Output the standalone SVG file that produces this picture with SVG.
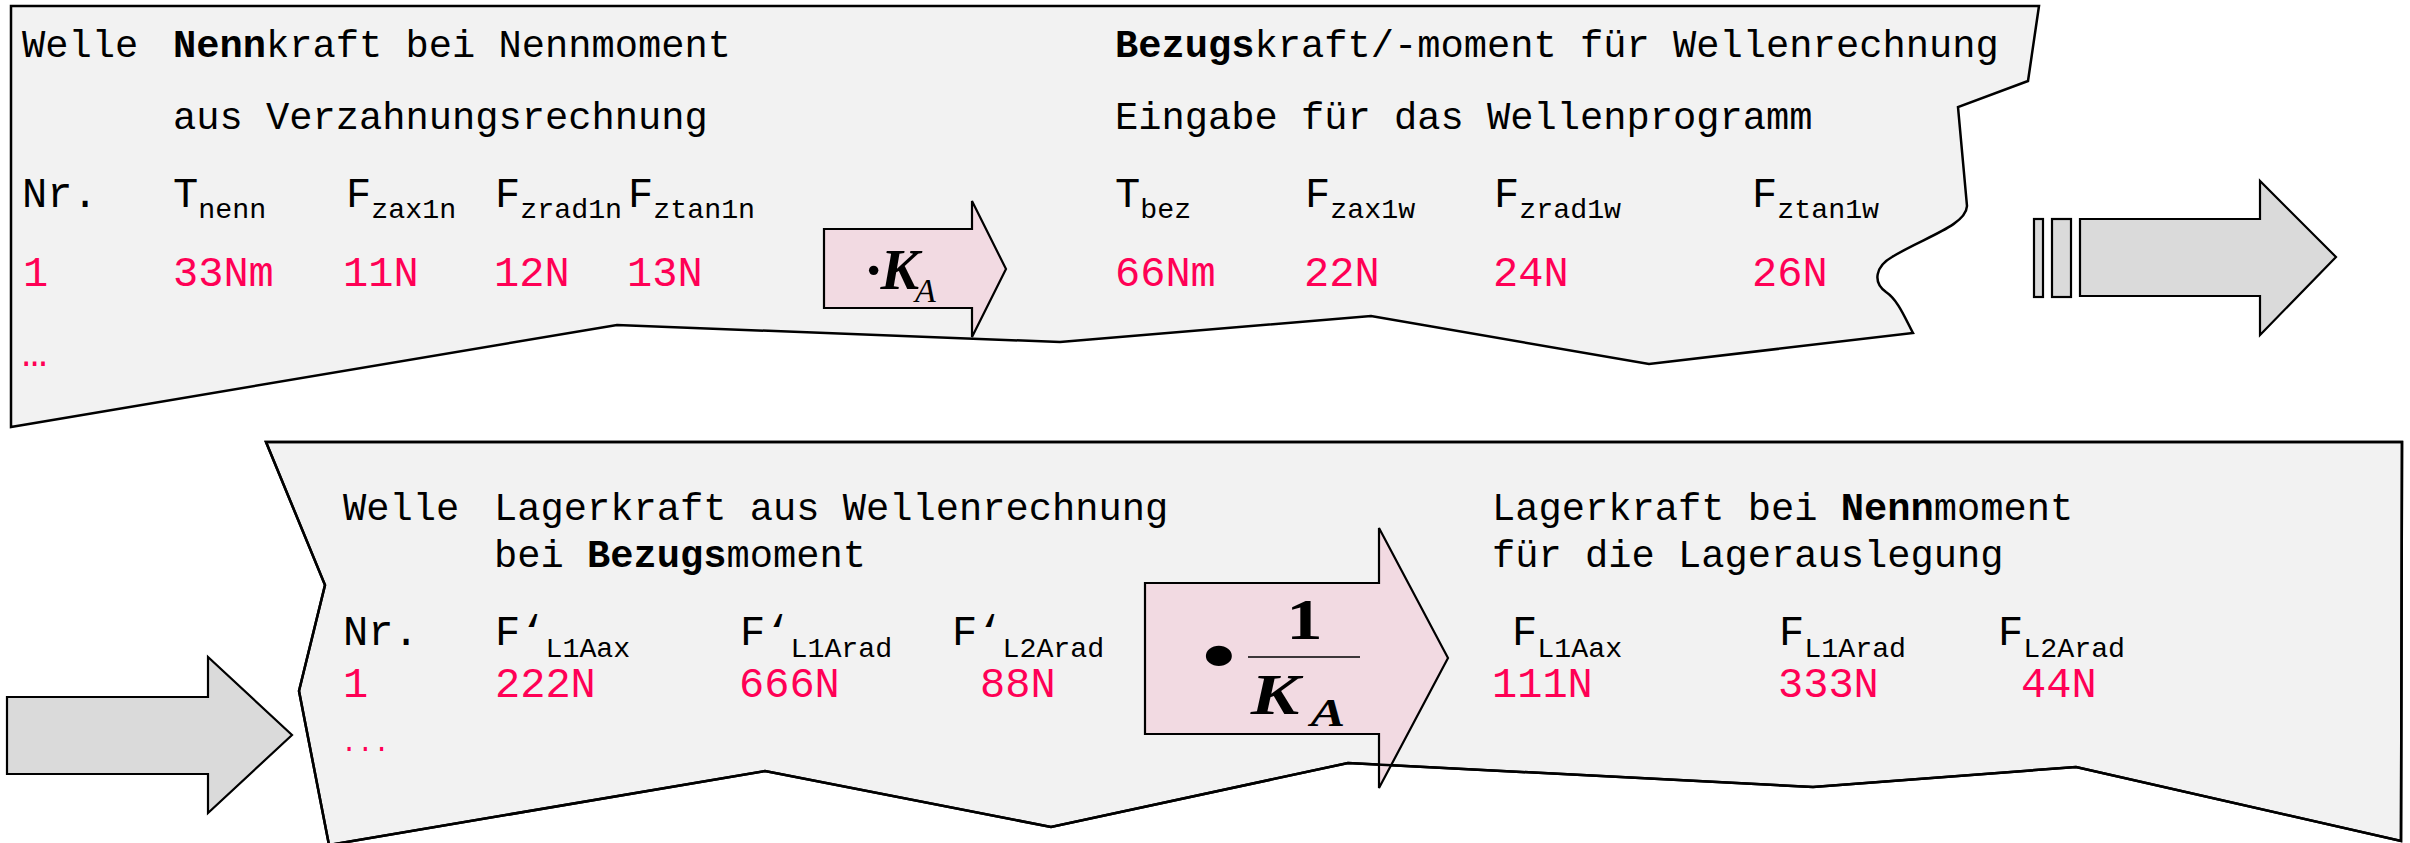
<svg xmlns="http://www.w3.org/2000/svg" xmlns:xlink="http://www.w3.org/1999/xlink" width="2410" height="843" viewBox="0 0 2410 843">
<defs>
<style>
.panel{fill:#F2F2F2;stroke:#000;stroke-width:2.5;stroke-linejoin:miter}
.outline{fill:none;stroke:#000;stroke-width:2.5}
.pink{fill:#F2DAE2;stroke:#000;stroke-width:2.2}
.gray{fill:#DADADA;stroke:#000;stroke-width:2.2}
text{font-family:"Liberation Mono","DejaVu Sans Mono",monospace;fill:#000}
.h{font-size:38.75px}
.l{font-size:42px}
.v{font-size:42px;fill:#FF0055}
.s{font-size:28.3px}
.b{font-weight:bold}
.m{font-family:"Liberation Serif","Times New Roman",serif}
</style>
<path id="p2" d="M266,442 L2402,442 L2401,841 L2076,767 L1813,787 L1348,763 L1051,827 L765,771 L329,845 L299,691 L325,585 Z"/>
</defs>

<g id="panel-top">
<path class="panel" d="M11,6 L11,427 L617,325 L1060,342 L1371,316 L1649,364 L1913,333 C1905,318 1898,300 1886,292 C1872,282 1876,266 1892,257 C1922,238 1966,226 1967,206 L1958,107 L2028,81 L2039,6 Z"/>
<text class="h" x="22" y="57">Welle</text>
<text class="h" x="173" y="57"><tspan class="b">Nenn</tspan>kraft bei Nennmoment</text>
<text class="h" x="173" y="129">aus Verzahnungsrechnung</text>
<text class="l" x="22" y="207">Nr.</text>
<text class="l" x="173" y="207">T<tspan class="s" dy="11">nenn</tspan></text>
<text class="l" x="346" y="207">F<tspan class="s" dy="11">zax1n</tspan></text>
<text class="l" x="495" y="207">F<tspan class="s" dy="11">zrad1n</tspan></text>
<text class="l" x="628" y="207">F<tspan class="s" dy="11">ztan1n</tspan></text>
<text class="v" x="23" y="286">1</text>
<text class="v" x="173" y="286">33Nm</text>
<text class="v" x="343" y="286">11N</text>
<text class="v" x="494" y="286">12N</text>
<text class="v" x="627" y="286">13N</text>
<text class="v" x="22" y="366">…</text>
<text class="h" x="1115" y="57"><tspan class="b">Bezugs</tspan>kraft/-moment für Wellenrechnung</text>
<text class="h" x="1115" y="129">Eingabe für das Wellenprogramm</text>
<text class="l" x="1115" y="207">T<tspan class="s" dy="11">bez</tspan></text>
<text class="l" x="1305" y="207">F<tspan class="s" dy="11">zax1w</tspan></text>
<text class="l" x="1494" y="207">F<tspan class="s" dy="11">zrad1w</tspan></text>
<text class="l" x="1752" y="207">F<tspan class="s" dy="11">ztan1w</tspan></text>
<text class="v" x="1115" y="286">66Nm</text>
<text class="v" x="1304" y="286">22N</text>
<text class="v" x="1493" y="286">24N</text>
<text class="v" x="1752" y="286">26N</text>
</g>

<g id="panel-bottom">
<use xlink:href="#p2" class="panel"/>
<text class="h" x="343" y="520">Welle</text>
<text class="h" x="494" y="520">Lagerkraft aus Wellenrechnung</text>
<text class="h" x="494" y="567">bei <tspan class="b">Bezugs</tspan>moment</text>
<text class="l" x="343" y="645">Nr.</text>
<text class="l" x="495" y="645">F‘<tspan class="s" dy="12">L1Aax</tspan></text>
<text class="l" x="740" y="645">F‘<tspan class="s" dy="12">L1Arad</tspan></text>
<text class="l" x="952" y="645">F‘<tspan class="s" dy="12">L2Arad</tspan></text>
<text class="v" x="343" y="697">1</text>
<text class="v" x="495" y="697">222N</text>
<text class="v" x="739" y="697">666N</text>
<text class="v" x="980" y="697">88N</text>
<text class="v" x="341" y="751" style="font-size:27px">...</text>
<text class="h" x="1492" y="520">Lagerkraft bei <tspan class="b">Nenn</tspan>moment</text>
<text class="h" x="1492" y="567">für die Lagerauslegung</text>
<text class="l" x="1512" y="645">F<tspan class="s" dy="12">L1Aax</tspan></text>
<text class="l" x="1779" y="645">F<tspan class="s" dy="12">L1Arad</tspan></text>
<text class="l" x="1998" y="645">F<tspan class="s" dy="12">L2Arad</tspan></text>
<text class="v" x="1492" y="697">111N</text>
<text class="v" x="1778" y="697">333N</text>
<text class="v" x="2021" y="697">44N</text>
</g>

<g id="connectors">
<g id="factor-ka">
<path class="pink" d="M824,229 L972,229 L972,201 L1006,269 L972,337 L972,308 L824,308 Z"/>
<text class="m b" x="866" y="289" style="font-size:58px;font-style:italic">·K</text>
<text class="m" x="915" y="302" style="font-size:34px;font-style:italic">A</text>
</g>
<g id="arrow-right">
<rect class="gray" x="2034" y="219" width="9" height="78"/>
<rect class="gray" x="2052" y="219" width="19" height="78"/>
<path class="gray" d="M2080,219 L2260,219 L2260,181 L2336,257 L2260,335 L2260,296 L2080,296 Z"/>
</g>
<g id="arrow-left">
<path class="gray" d="M7,697 L208,697 L208,657 L292,735 L208,813 L208,774 L7,774 Z"/>
</g>
<g id="factor-inv-ka">
<path class="pink" d="M1145,583 L1379,583 L1379,528 L1448,658 L1379,788 L1379,734 L1145,734 Z"/>
<use xlink:href="#p2" class="outline"/>
<line x1="1248" y1="657" x2="1360" y2="657" stroke="#000" stroke-width="1.6"/>
<g transform="matrix(1.3 0 0 1 -391.2 0)">
<text class="m" x="1238.6" y="684" text-anchor="middle" style="font-size:84px">•</text>
<text class="m b" x="1304.4" y="639" text-anchor="middle" style="font-size:56px">1</text>
<text class="m b" x="1263" y="714" style="font-size:56px;font-style:italic">K</text>
<text class="m b" x="1309" y="726" style="font-size:40px;font-style:italic">A</text>
</g>
</g>
</g>
</svg>
